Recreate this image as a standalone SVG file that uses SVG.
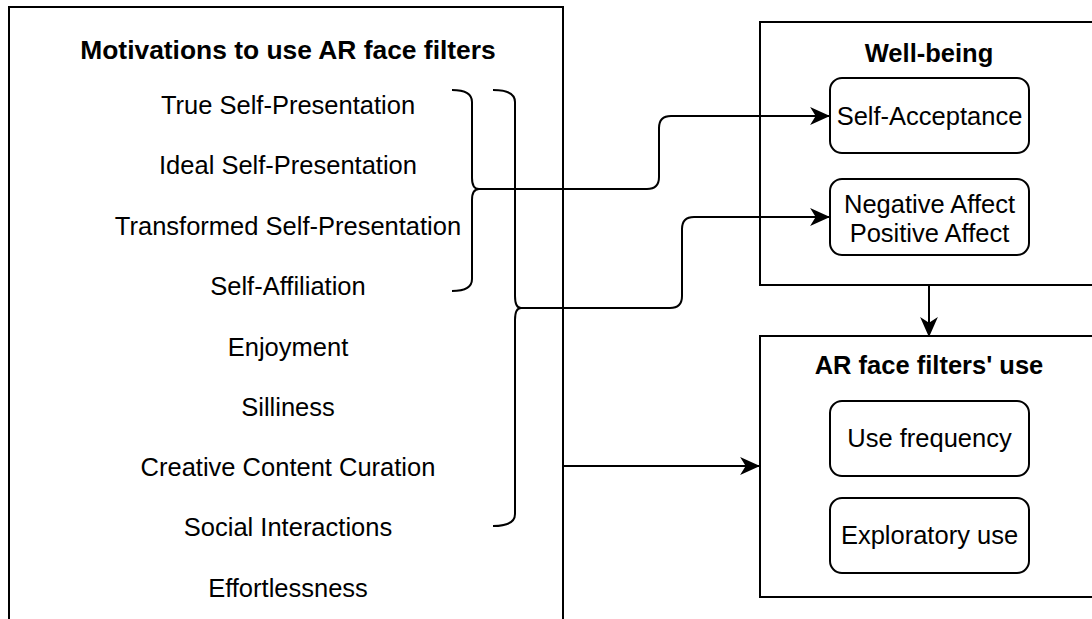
<svg xmlns="http://www.w3.org/2000/svg" width="1092" height="619" viewBox="0 0 1092 619">
<style>
.box{fill:#fff;stroke:#000;stroke-width:2}
.sub{fill:#fff;stroke:#000;stroke-width:2}
.t{font-family:"Liberation Sans",Arial,sans-serif;font-size:25.5px;fill:#000;text-anchor:middle}
.b{font-weight:bold}
.c{fill:none;stroke:#000;stroke-width:2}
</style>
<defs>
<marker id="arr" markerUnits="userSpaceOnUse" markerWidth="20" markerHeight="20" viewBox="0 0 18 18" refX="17" refY="9" orient="auto">
<path d="M0,1 L18,9 L0,17 L5,9 Z" fill="#000"/>
</marker>
</defs>
<rect width="1092" height="619" fill="#fff"/>
<g id="motivations">
<rect class="box" x="9" y="7" width="554" height="700"/>
<text class="t b" x="288" y="59" style="font-size:26.4px">Motivations to use AR face filters</text>
<text class="t" x="288" y="114">True Self-Presentation</text>
<text class="t" x="288" y="174">Ideal Self-Presentation</text>
<text class="t" x="288" y="235">Transformed Self-Presentation</text>
<text class="t" x="288" y="295">Self-Affiliation</text>
<text class="t" x="288" y="356">Enjoyment</text>
<text class="t" x="288" y="416">Silliness</text>
<text class="t" x="288" y="476">Creative Content Curation</text>
<text class="t" x="288" y="536">Social Interactions</text>
<text class="t" x="288" y="597">Effortlessness</text>
</g>
<g id="brace1">
<path class="c" d="M452,90 Q472,90 472,102 L472,178 Q472,189 479,189 Q472,189 472,200 L472,279 Q472,291 452,291"/>
</g>
<g id="brace2">
<path class="c" d="M493,90 Q515,90 515,102 L515,296 Q515,308 521,308 Q515,308 515,320 L515,514 Q515,526 493,526"/>
</g>
<g id="wellbeing">
<rect class="box" x="760" y="22" width="340" height="263"/>
<text class="t b" x="929" y="62">Well-being</text>
</g>
<g id="selfacceptance">
<rect class="sub" x="830" y="78" width="199" height="75" rx="12"/>
<text class="t" x="929.5" y="125">Self-Acceptance</text>
</g>
<g id="affect">
<rect class="sub" x="830" y="179" width="199" height="76" rx="12"/>
<text class="t" x="929.5" y="213">Negative Affect</text>
<text class="t" x="929.5" y="242">Positive Affect</text>
</g>
<g id="aruse">
<rect class="box" x="760" y="336" width="340" height="261"/>
<text class="t b" x="929" y="374">AR face filters' use</text>
</g>
<g id="usefrequency">
<rect class="sub" x="830" y="401" width="199" height="75" rx="12"/>
<text class="t" x="929.5" y="447">Use frequency</text>
</g>
<g id="exploratory">
<rect class="sub" x="830" y="498" width="199" height="75" rx="12"/>
<text class="t" x="929.5" y="544">Exploratory use</text>
</g>
<g id="connectors">
<path class="c" d="M479,189 L647,189 Q659,189 659,177 L659,128 Q659,116 671,116 L829,116" marker-end="url(#arr)"/>
<path class="c" d="M521,308 L670,308 Q682,308 682,296 L682,229 Q682,217 694,217 L829,217" marker-end="url(#arr)"/>
<path class="c" d="M563,466 L759,466" marker-end="url(#arr)"/>
<path class="c" d="M929,285 L929,336" marker-end="url(#arr)"/>
</g>
</svg>
